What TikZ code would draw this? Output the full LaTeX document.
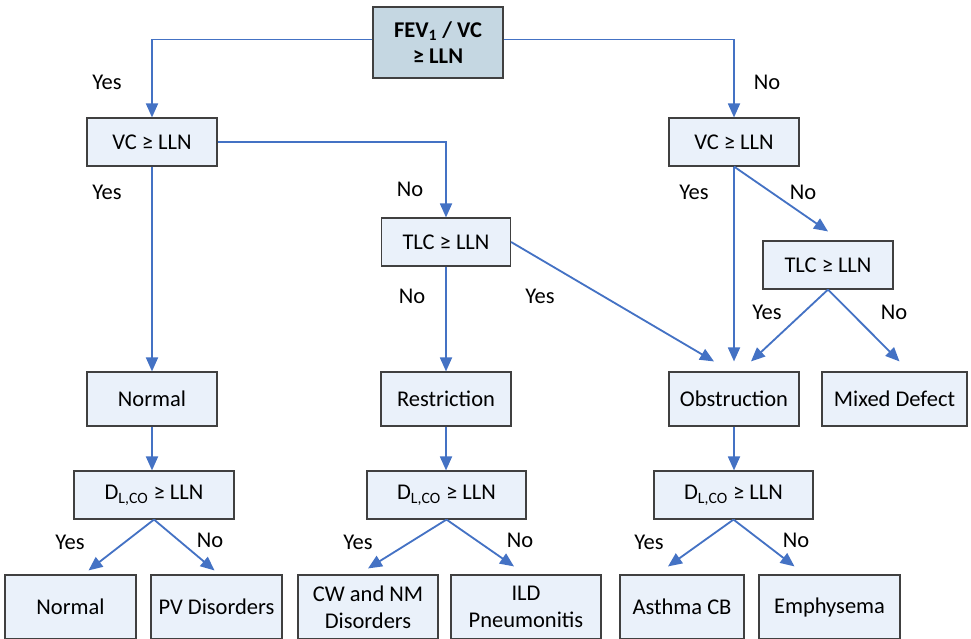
\documentclass[tikz,border=0pt]{standalone}
\usepackage{fontspec}
\setmainfont{Carlito}
\usetikzlibrary{arrows.meta,calc}
\definecolor{boxfill}{HTML}{EAF1FA}
\definecolor{topfill}{HTML}{C5D7E2}
\definecolor{linkblue}{HTML}{4472C4}
\begin{document}
\begin{tikzpicture}
            [
                x=0.025cm, y=-0.025cm,
                font=\fontsize{16}{19}\selectfont,
                box/.style={rectangle, draw=black!75, line width=0.8pt, fill=boxfill, minimum width=3.25cm, minimum height=1.2cm, align=center, inner sep=2pt},
                link/.style={draw=linkblue, line width=1.3pt, -{Triangle[length=0.35cm, width=0.3cm]}}
            ]
            \useasboundingbox (0,0) rectangle (971,638);
            \clip (0,0) rectangle (971,638);
            % top
            \node[box, fill=topfill, font=\fontsize{16}{19}\selectfont\bfseries, minimum height=1.775cm] (top) at (438,42.5) {FEV\textsubscript{1} / VC\\≥ LLN};
            % VC tests
            \node[box] (vcl) at (152,142) {VC ≥ LLN};
            \node[box] (vcr) at (734,142) {VC ≥ LLN};
            % TLC tests
            \node[box, minimum width=3.225cm] (tlcm) at (446,242) {TLC ≥ LLN};
            \node[box] (tlcr) at (828,265) {TLC ≥ LLN};
            % patterns
            \node[box, minimum height=1.35cm] (norm) at (152,399) {Normal};
            \node[box, minimum height=1.35cm] (restr) at (446,399) {Restriction};
            \node[box, minimum height=1.35cm] (obstr) at (734,399) {Obstruction};
            \node[box, minimum height=1.35cm, minimum width=3.625cm] (mixed) at (894.5,399) {Mixed Defect};
            % DLCO tests
            \node[box, minimum width=4cm] (dll) at (154,495) {D\textsubscript{L,CO} ≥ LLN};
            \node[box, minimum width=3.975cm] (dlm) at (446.5,495) {D\textsubscript{L,CO} ≥ LLN};
            \node[box, minimum width=3.975cm] (dlr) at (733.5,495) {D\textsubscript{L,CO} ≥ LLN};
            % diagnoses
            \node[box, minimum width=3.275cm, minimum height=1.6cm] (bnorm) at (70.5,607) {Normal};
            \node[box, minimum width=3.275cm, minimum height=1.6cm] (bpv) at (216.5,607) {PV Disorders};
            \node[box, minimum width=3.5cm, minimum height=1.6cm] (bcw) at (368,607) {CW and NM\\Disorders};
            \node[box, minimum width=3.75cm, minimum height=1.6cm] (bild) at (526,607) {ILD\\Pneumonitis};
            \node[box, minimum width=3.1cm, minimum height=1.6cm] (basth) at (682,607) {Asthma CB};
            \node[box, minimum width=3.525cm, minimum height=1.6cm] (bemph) at (829.5,607) {Emphysema};
            % links
            \draw[link] ($(top.west)+(0,-3)$) -| (vcl.north);
            \draw[link] ($(top.east)+(0,-3)$) -| (vcr.north);
            \draw[link] (vcl.east) -| (tlcm.north);
            \draw[link] (vcl.south) -- (norm.north);
            \draw[link] (tlcm.south) -- (tlcm.south |- restr.north);
            \draw[link] (tlcm.east) -- ($(obstr.north)+(-20,-10)$);
            \draw[link] (vcr.south) -- ($(obstr.north)+(0,-10)$);
            \draw[link] (vcr.south) -- ($(tlcr.north)+(0,-9)$);
            \draw[link] (tlcr.south) -- ($(obstr.north)+(17,-10)$);
            \draw[link] (tlcr.south) -- ($(mixed.north)+(5,-10)$);
            \draw[link] (norm.south) -- (norm.south |- dll.north);
            \draw[link] (restr.south) -- (restr.south |- dlm.north);
            \draw[link] (obstr.south) -- (obstr.south |- dlr.north);
            \draw[link] (dll.south) -- ($(bnorm.north)+(18,-4)$);
            \draw[link] (dll.south) -- ($(bpv.north)+(-2,-4)$);
            \draw[link] (dlm.south) -- ($(bcw.north)+(0,-6)$);
            \draw[link] (dlm.south) -- ($(bild.north)+(-12,-8)$);
            \draw[link] (dlr.south) -- ($(basth.north)+(-14,-8)$);
            \draw[link] (dlr.south) -- ($(bemph.north)+(-35,-8)$);
            % labels
            \node (y1) at (107,82) {Yes};
            \node (n1) at (767,82) {No};
            \node (y2) at (107,192) {Yes};
            \node (n2) at (410,189) {No};
            \node (y3) at (694,192) {Yes};
            \node (n3) at (803,192) {No};
            \node (n4) at (412,296) {No};
            \node (y4) at (540,296) {Yes};
            \node (y5) at (767,312) {Yes};
            \node (n5) at (894,312) {No};
            \node (y6) at (70,542) {Yes};
            \node (n6) at (210,540) {No};
            \node (y7) at (358,542) {Yes};
            \node (n7) at (520,540) {No};
            \node (y8) at (649,542) {Yes};
            \node (n8) at (796,540) {No};
\end{tikzpicture}
\end{document}
